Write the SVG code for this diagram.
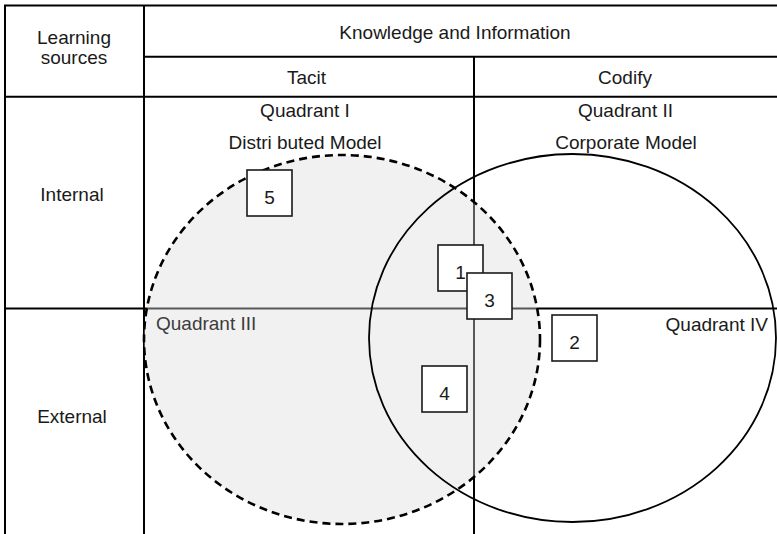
<svg xmlns="http://www.w3.org/2000/svg" width="777" height="534" viewBox="0 0 777 534">
  <style>
    .grid { stroke: #000; stroke-width: 2; fill: none; }
    .lbl { font-family: "Liberation Sans", Arial, sans-serif; font-size: 19px; fill: #1a1a1a; }
    .mid { text-anchor: middle; }
    .box rect { fill: #fff; stroke: #1a1a1a; stroke-width: 1.6; }
    .box text { font-family: "Liberation Sans", Arial, sans-serif; font-size: 19px; fill: #1a1a1a; text-anchor: middle; }
  </style>
  <rect x="0" y="0" width="777" height="534" fill="#fff"/>

  <g id="table">
    <line class="grid" x1="4" y1="5.5" x2="777" y2="5.5"/>
    <line class="grid" x1="5" y1="5" x2="5" y2="534"/>
    <line class="grid" x1="144" y1="5" x2="144" y2="534"/>
    <line class="grid" x1="144" y1="56.7" x2="777" y2="56.7"/>
    <line class="grid" x1="5" y1="96.7" x2="777" y2="96.7"/>
    <line class="grid" x1="474" y1="56.7" x2="474" y2="534"/>
    <line class="grid" x1="5" y1="308.5" x2="777" y2="308.5"/>
  </g>

  <g id="labels">
    <text class="lbl mid" x="74" y="44.3">Learning</text>
    <text class="lbl mid" x="74" y="63.5">sources</text>
    <text class="lbl mid" x="455" y="39">Knowledge and Information</text>
    <text class="lbl mid" x="306.5" y="84">Tacit</text>
    <text class="lbl mid" x="625" y="84">Codify</text>
    <text class="lbl mid" x="305" y="116.7">Quadrant I</text>
    <text class="lbl mid" x="305" y="149">Distri buted Model</text>
    <text class="lbl mid" x="625.5" y="116.7">Quadrant II</text>
    <text class="lbl mid" x="626" y="149">Corporate Model</text>
    <text class="lbl mid" x="72" y="201">Internal</text>
    <text class="lbl mid" x="72" y="423.3">External</text>
    <text class="lbl" x="768" y="330.5" text-anchor="end">Quadrant IV</text>
  </g>

  <g id="distributed-circle">
    <ellipse cx="342" cy="339.5" rx="198" ry="184.5" fill="#dcdcdc" fill-opacity="0.4" stroke="#000" stroke-width="2.6" stroke-dasharray="8 5"/>
    <text class="lbl" x="156" y="330" style="fill:#3c3c3c">Quadrant III</text>
  </g>

  <g id="corporate-circle">
    <ellipse cx="572.5" cy="338" rx="203.5" ry="184" fill="none" stroke="#000" stroke-width="1.8"/>
  </g>

  <g id="box5" class="box"><rect x="247" y="170" width="45" height="46"/><text x="269.5" y="203.5">5</text></g>
  <g id="box1" class="box"><rect x="438" y="245" width="45" height="46"/><text x="460.5" y="278.5">1</text></g>
  <g id="box3" class="box"><rect x="467" y="273" width="45" height="46"/><text x="489.5" y="306.5">3</text></g>
  <g id="box2" class="box"><rect x="552" y="315" width="45" height="46"/><text x="574.5" y="348.5">2</text></g>
  <g id="box4" class="box"><rect x="422" y="366" width="45" height="46"/><text x="444.5" y="399.5">4</text></g>

  <g id="connectors"/>
</svg>
